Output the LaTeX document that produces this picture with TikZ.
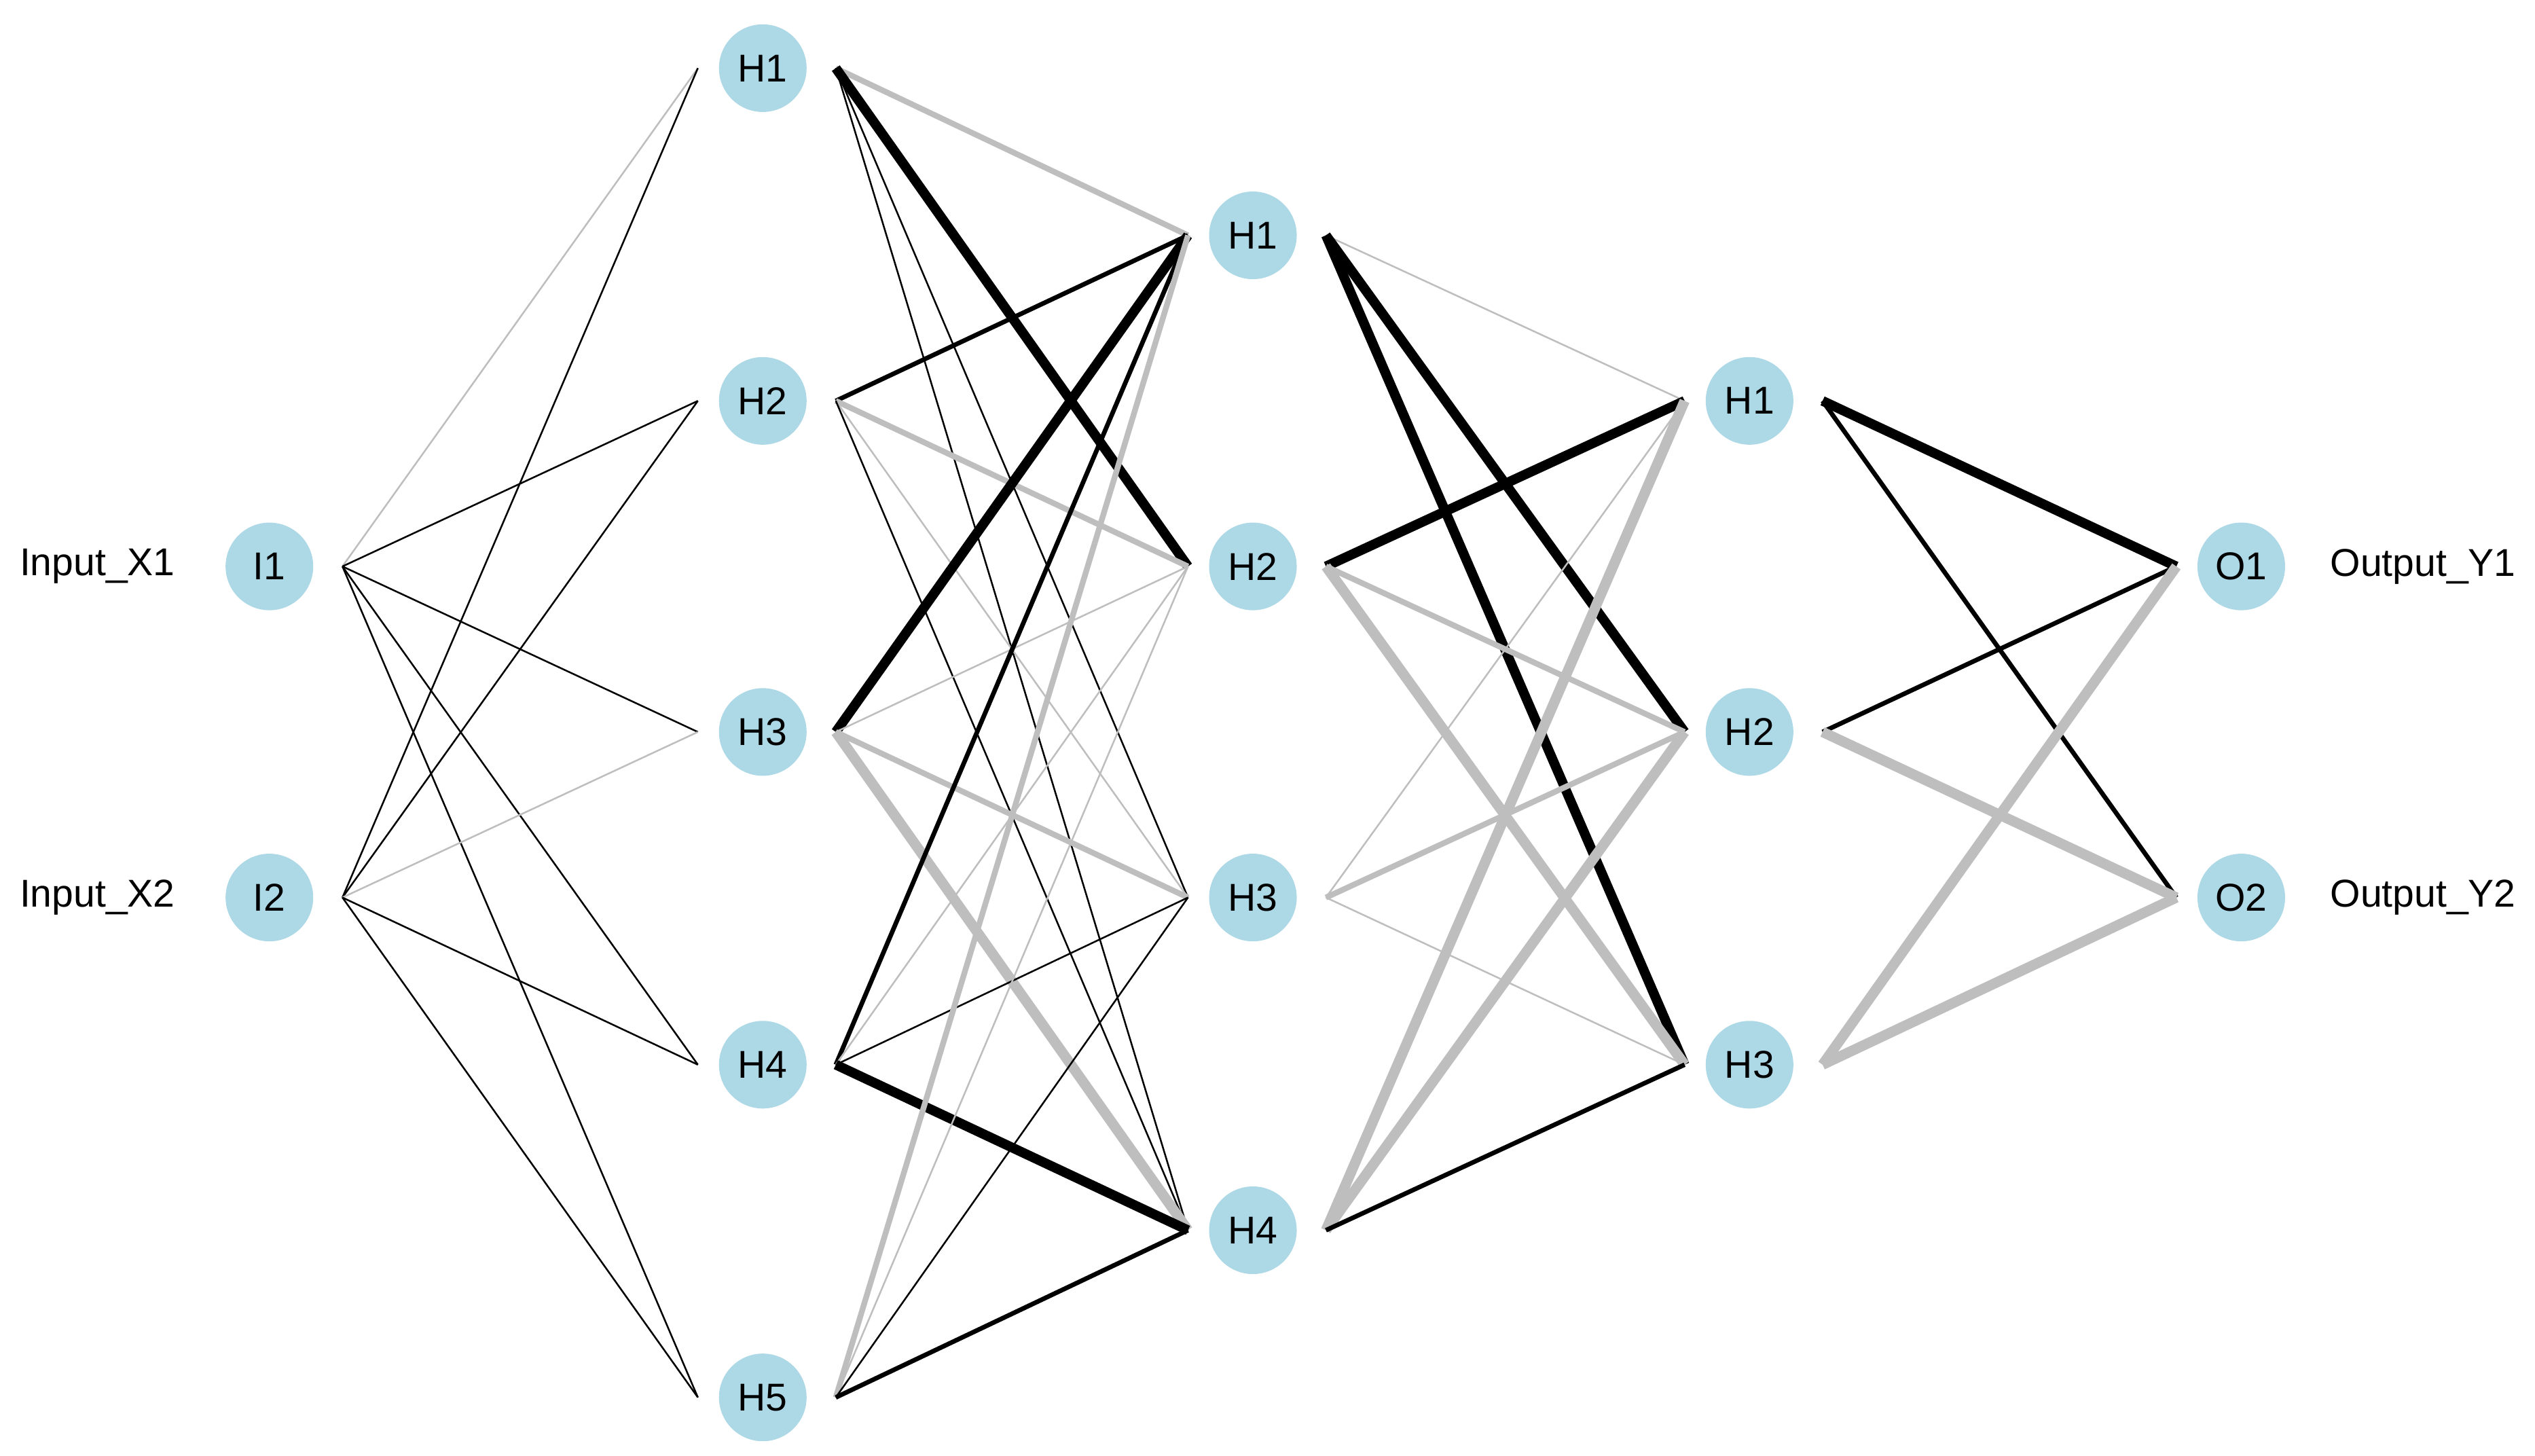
\documentclass[tikz,border=0pt]{standalone}
\usepackage{fontspec}
\setmainfont{Liberation Sans}
\usetikzlibrary{calc}
\definecolor{nodeblue}{HTML}{ADD8E6}
\definecolor{wgray}{HTML}{BEBEBE}

\begin{document}
\begin{tikzpicture}[
    neuron/.style={circle, fill=nodeblue, minimum size=5.4mm, inner sep=0pt, font=\fontsize{6.8}{8}\selectfont},
    iolabel/.style={font=\fontsize{6.8}{8}\selectfont},
    bk1/.style={black, line width=0.3pt},
    bk2/.style={black, line width=0.8pt},
    bk3/.style={black, line width=1.7pt},
    gr1/.style={wgray, line width=0.3pt},
    gr2/.style={wgray, line width=1pt},
    gr3/.style={wgray, line width=1.8pt}
]
\useasboundingbox (0,0) rectangle (15.62,8.97);

% Input layer
\node[neuron] (i1) at (1.66,5.48) {I1};
\node[neuron] (i2) at (1.66,3.44) {I2};
\node[iolabel] (x1) at (0.60,5.48) {Input\_X1};
\node[iolabel] (x2) at (0.60,3.44) {Input\_X2};

% First hidden layer
\node[neuron] (a1) at (4.70,8.55) {H1};
\node[neuron] (a2) at (4.70,6.50) {H2};
\node[neuron] (a3) at (4.70,4.46) {H3};
\node[neuron] (a4) at (4.70,2.41) {H4};
\node[neuron] (a5) at (4.70,0.36) {H5};

% Second hidden layer
\node[neuron] (b1) at (7.72,7.52) {H1};
\node[neuron] (b2) at (7.72,5.48) {H2};
\node[neuron] (b3) at (7.72,3.44) {H3};
\node[neuron] (b4) at (7.72,1.39) {H4};

% Third hidden layer
\node[neuron] (c1) at (10.78,6.50) {H1};
\node[neuron] (c2) at (10.78,4.46) {H2};
\node[neuron] (c3) at (10.78,2.41) {H3};

% Output layer
\node[neuron] (o1) at (13.81,5.48) {O1};
\node[neuron] (o2) at (13.81,3.44) {O2};
\node[iolabel] (y1) at (14.93,5.48) {Output\_Y1};
\node[iolabel] (y2) at (14.93,3.44) {Output\_Y2};

% Weights
\foreach \s/\t/\w in {i1/a1/gr1, i1/a2/bk1, i1/a3/bk1, i1/a4/bk1, i1/a5/bk1,
    i2/a1/bk1, i2/a2/bk1, i2/a3/gr1, i2/a4/bk1, i2/a5/bk1,
    a1/b1/gr2, a1/b2/bk3, a1/b3/bk1, a1/b4/bk1,
    a2/b1/bk2, a2/b2/gr2, a2/b3/gr1, a2/b4/bk1,
    a3/b1/bk3, a3/b2/gr1, a3/b3/gr2, a3/b4/gr3,
    a4/b1/bk2, a4/b2/gr1, a4/b3/bk1, a4/b4/bk3,
    a5/b1/gr2, a5/b2/gr1, a5/b3/bk1, a5/b4/bk2,
    b1/c1/gr1, b1/c2/bk3, b1/c3/bk3,
    b2/c1/bk3, b2/c2/gr2, b2/c3/gr3,
    b3/c1/gr1, b3/c2/gr2, b3/c3/gr1,
    b4/c1/gr3, b4/c2/gr3, b4/c3/bk2,
    c1/o1/bk3, c1/o2/bk2,
    c2/o1/bk2, c2/o2/gr3,
    c3/o1/gr3, c3/o2/gr3}
    \draw[\w] ($(\s)+(0.45,0)$) -- ($(\t)+(-0.40,0)$);

\end{tikzpicture}
\end{document}
